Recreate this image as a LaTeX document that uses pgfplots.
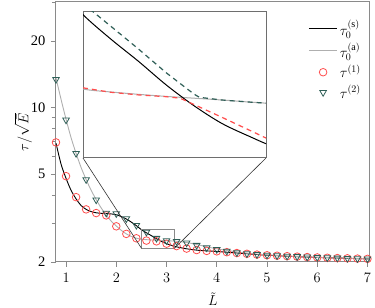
\documentclass[border=0pt]{standalone}
\usepackage{pgfplots}
\pgfplotsset{compat=1.18}
\usepackage{pgfplotstable}
\usepackage{fontspec}
\setmainfont{Liberation Serif}
\definecolor{myred}{HTML}{FF4D4D}
\definecolor{myteal}{HTML}{2F5F57}
\definecolor{mygray}{HTML}{AFAFAF}
\definecolor{framegray}{HTML}{8A8A8A}
\definecolor{insetgray}{HTML}{6E6E6E}
\pgfplotsset{
  mylegimg/.style={legend image code/.code={\draw[mark repeat=2,mark phase=2,##1] plot coordinates {(0cm,0cm) (0.5cm,0cm) (1cm,0cm)};}},
}

\pgfplotstableread{
x y
0.8 6.9
0.9 5.55
1.0 4.78
1.1 4.22
1.2 3.86
1.3 3.6
1.4 3.46
1.5 3.38
1.6 3.34
1.7 3.32
1.8 3.31
1.9 3.30
2.0 3.27
2.1 3.21
2.2 3.13
2.3 3.03
2.4 2.92
2.5 2.80
2.6 2.71
2.7 2.63
2.8 2.548
2.9 2.478
3.0 2.420
3.1 2.378
3.2 2.342
3.4 2.295
3.6 2.263
3.8 2.245
4.0 2.232
4.5 2.188
5.0 2.147
5.5 2.119
6.0 2.098
6.5 2.081
7.0 2.066
7.1 2.063
}\datS

\pgfplotstableread{
x y
0.8 13.6
0.9 10.9
1.0 8.85
1.1 7.3
1.2 6.2
1.3 5.35
1.4 4.72
1.5 4.22
1.6 3.83
1.7 3.51
1.8 3.26
1.9 3.06
2.0 2.91
2.1 2.78
2.2 2.68
2.3 2.61
2.4 2.563
2.5 2.534
2.6 2.524
2.7 2.516
2.8 2.509
2.9 2.503
3.0 2.497
3.1 2.490
3.2 2.482
3.4 2.450
3.6 2.400
3.8 2.345
4.0 2.295
4.5 2.205
5.0 2.155
5.5 2.122
6.0 2.100
6.5 2.082
7.0 2.068
7.1 2.065
}\datA

\pgfplotstableread{
x y
0.8 6.95
1.0 4.89
1.2 3.93
1.4 3.46
1.6 3.33
1.8 3.25
2.0 2.90
2.2 2.68
2.4 2.56
2.6 2.50
2.8 2.48
3.0 2.42
3.2 2.36
3.4 2.30
3.6 2.265
3.8 2.245
4.0 2.235
4.2 2.215
4.4 2.195
4.6 2.178
4.8 2.160
5.0 2.145
5.2 2.135
5.4 2.125
5.6 2.115
5.8 2.105
6.0 2.097
6.2 2.090
6.4 2.083
6.6 2.078
6.8 2.072
7.0 2.066
}\datOne

\pgfplotstableread{
x y
0.8 13.4
1.0 8.78
1.2 6.2
1.4 4.72
1.6 3.82
1.8 3.33
2.0 3.31
2.2 3.14
2.4 2.93
2.6 2.73
2.8 2.56
3.0 2.50
3.2 2.48
3.4 2.44
3.6 2.38
3.8 2.32
4.0 2.28
4.2 2.24
4.4 2.205
4.6 2.180
4.8 2.163
5.0 2.150
5.2 2.137
5.4 2.127
5.6 2.117
5.8 2.107
6.0 2.099
6.2 2.091
6.4 2.084
6.6 2.078
6.8 2.072
7.0 2.067
}\datTwo

\pgfplotstableread{
x y
2.5 2.538
2.6 2.523
2.7 2.514
2.8 2.508
2.85 2.503
2.9 2.482
3.0 2.440
3.1 2.398
3.2 2.356
}\datOneC

\pgfplotstableread{
x y
2.5 2.842
2.6 2.757
2.7 2.674
2.8 2.590
2.85 2.553
2.9 2.517
2.92 2.506
3.0 2.497
3.1 2.490
3.2 2.484
}\datTwoC

\begin{document}
\begin{tikzpicture}[font=\fontsize{14.5}{17}\selectfont]
\useasboundingbox (-56pt,-46pt) rectangle (319pt,262pt);
\begin{axis}[
  name=main, at={(0pt,0pt)}, anchor=south west,
  scale only axis, width=314pt, height=260pt,
  ymode=log, xmin=0.8, xmax=7.05, ymin=2, ymax=30,
  xtick={1,2,3,4,5,6,7},
  ytick={2,5,10,20}, yticklabels={2,5,10,20},
  minor ytick={3,4,6,7,8,9,30},
  xtick pos=bottom, ytick pos=left, tick align=outside,
  major tick length=5pt, minor tick length=4pt,
  tick style={framegray, line width=0.8pt},
  axis line style={framegray, line width=1pt},
  xticklabel style={yshift=-3pt},
  yticklabel style={xshift=-2pt},
  xlabel={$\tilde{L}$}, ylabel={$\tau/\sqrt{\bar{E}}$},
  xlabel style={yshift=-3pt},
  ylabel style={yshift=-8pt},
  legend cell align=left,
  legend style={draw=none, fill=none, at={(1,1)}, anchor=north east, xshift=-4pt, yshift=-14pt, row sep=2pt},
  mylegimg,
]
\addplot[black, line width=0.9pt, smooth, tension=0.5] table[x=x,y=y]{\datS};
\addlegendentry{$\tau_0^{(\mathrm{s})}$}
\addplot[mygray, line width=0.9pt, smooth, tension=0.5] table[x=x,y=y]{\datA};
\addlegendentry{$\tau_0^{(\mathrm{a})}$}
\addplot[only marks, mark=o, mark size=3.8pt, myred, mark options={line width=0.8pt}] table[x=x,y=y]{\datOne};
\addlegendentry{$\tau^{(1)}$}
\addplot[only marks, mark=triangle, mark size=3.8pt, myteal, mark options={rotate=180, line width=0.8pt, fill=white!85!myteal}] table[x=x,y=y]{\datTwo};
\addlegendentry{$\tau^{(2)}$}
\draw[framegray, line width=0.8pt] (axis cs:2.5,2.31) rectangle (axis cs:3.16,2.81);
\coordinate (rA) at (axis cs:2.5,2.31);
\coordinate (rB) at (axis cs:3.16,2.31);
\end{axis}
\begin{axis}[
  name=inset, at={(27pt,104pt)}, anchor=south west,
  scale only axis, width=183pt, height=146pt,
  ymode=log, xmin=2.5, xmax=3.16, ymin=2.31, ymax=2.81,
  xtick=\empty, ytick=\empty, xminorticks=false, yminorticks=false,
  axis line style={insetgray, line width=1pt},
  axis background/.style={fill=white},
]
\addplot[mygray, line width=1pt, smooth, tension=0.5] table[x=x,y=y]{\datA};
\addplot[black, line width=1pt, smooth, tension=0.5] table[x=x,y=y]{\datS};
\addplot[myred, line width=1.2pt, dash pattern=on 5pt off 4pt] table[x=x,y=y]{\datOneC};
\addplot[myteal, line width=1.2pt, dash pattern=on 5pt off 4pt] table[x=x,y=y]{\datTwoC};
\end{axis}
\draw[black!80, line width=0.6pt] (inset.south west) -- (rA);
\draw[black!80, line width=0.6pt] (inset.south east) -- (rB);
\end{tikzpicture}
\end{document}
